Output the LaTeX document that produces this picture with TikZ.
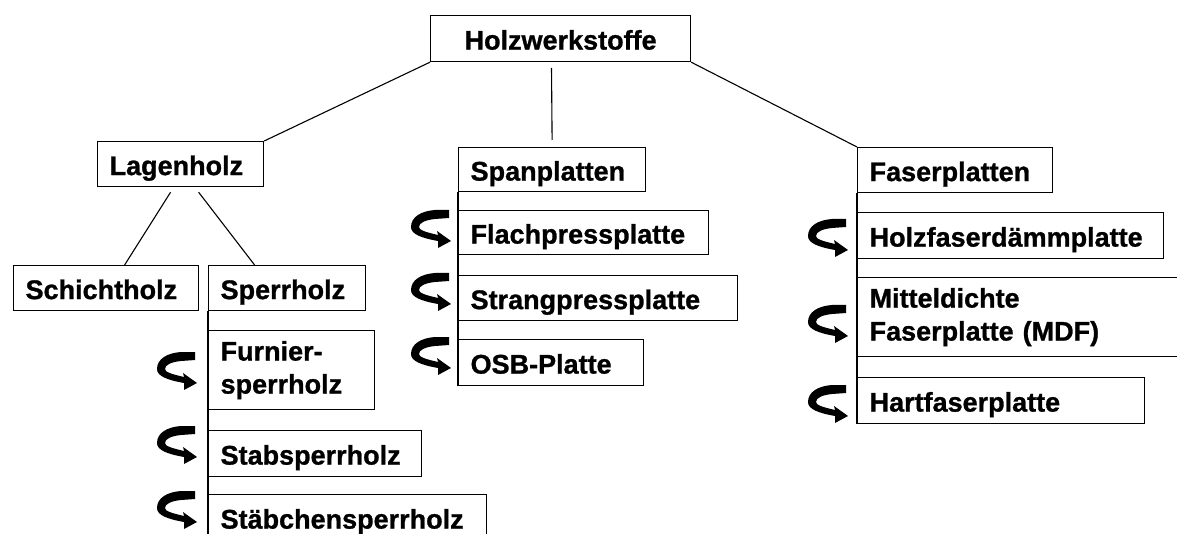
\documentclass[tikz,border=0pt]{standalone}
\usepackage{fontspec}
\setmainfont[BoldFeatures={FakeBold=1}]{Liberation Sans}
\hyphenpenalty=10000
\begin{document}
\begin{tikzpicture}[x=1pt,y=-1pt,
  cell/.style={draw, line width=1.2pt, anchor=north west, inner xsep=12pt, inner ysep=0pt,
    align=left, font=\bfseries\fontsize{27}{33}\selectfont},
  one/.style={text height=24pt, text depth=2pt},
  link/.style={line width=1.1pt},
  turn/.pic={
    \fill[black] (38,0) -- (38,8) -- (24,9)
      .. controls (14,10) and (8,13) .. (8,17)
      .. controls (8,20) and (14,22) .. (27,25)
      -- (26,21) -- (40,31) -- (27,38) -- (27,31)
      .. controls (10,28) and (0,24) .. (0,17)
      .. controls (0,7) and (10,1) .. (24,0) -- cycle;
  }]
\useasboundingbox (0,0) rectangle (1177,534);
\fill[white] (0,0) rectangle (1177,534);
\clip (0,0) rectangle (1177,534);

% root
\node[cell, one, align=center, text width=236pt, minimum height=46pt] (holz) at (430,15) {Holzwerkstoffe};

% main groups
\node[cell, one, text width=142pt, minimum height=45pt] (lagen) at (97,141) {Lagenholz};
\node[cell, one, text width=163pt, minimum height=44pt] (span) at (458,147) {Spanplatten};
\node[cell, one, text width=171pt, minimum height=45pt] (faser) at (857,147) {Faserplatten};

% Lagenholz branch
\node[cell, one, text width=161pt, minimum height=45pt] (schicht) at (13,265) {Schichtholz};
\node[cell, one, text width=133pt, minimum height=45pt] (sperr) at (208,265) {Sperrholz};
\node[cell, text width=142pt, minimum height=79pt] (furnier) at (208,330) {Furnier-\\sperrholz};
\node[cell, one, text width=189pt, minimum height=46pt] (stab) at (208,430) {Stabsperrholz};
\node[cell, one, text width=254pt, minimum height=46pt] (staeb) at (208,494) {Stäbchensperrholz};

% Spanplatten branch
\node[cell, one, text width=226pt, minimum height=44pt] (flach) at (458,210) {Flachpressplatte};
\node[cell, one, text width=255pt, minimum height=45pt] (strang) at (458,275) {Strangpressplatte};
\node[cell, one, text width=161pt, minimum height=46pt] (osb) at (458,339) {OSB-Platte};

% Faserplatten branch
\node[cell, one, text width=282pt, minimum height=46pt] (hfd) at (857,212) {Holzfaserdämmplatte};
\node[cell, text width=316pt, minimum height=79pt] (mdf) at (857,277) {Mitteldichte\\Faserplatte (MDF)};
\node[cell, one, text width=263pt, minimum height=46pt] (hart) at (857,377) {Hartfaserplatte};

% connectors
\coordinate (spanstub) at (551.5,68);
\draw[link] (holz.south west) -- (lagen.north east);
\draw[link] (spanstub) -- ([yshift=7pt]span.north);
\draw[link] (holz.south east) -- (faser.north west);
\draw[link] ([xshift=-10pt,yshift=-5pt]lagen.south) -- ([xshift=18.5pt]schicht.north);
\draw[link] ([xshift=18pt,yshift=-5pt]lagen.south) -- ([xshift=-32.5pt]sperr.north);

% column spines
\draw[line width=1.2pt] (sperr.south west) -- (staeb.south west);
\draw[line width=1.2pt] (span.south west) -- (osb.south west);
\draw[line width=1.2pt] (faser.south west) -- (hart.south west);

% turn arrows
\pic at (157,352) {turn};
\pic at (157,426) {turn};
\pic at (157,491) {turn};
\pic at (411,210) {turn};
\pic at (411,273) {turn};
\pic at (411,337) {turn};
\pic at (808,219) {turn};
\pic at (808,305) {turn};
\pic at (808,385) {turn};
\end{tikzpicture}
\end{document}
